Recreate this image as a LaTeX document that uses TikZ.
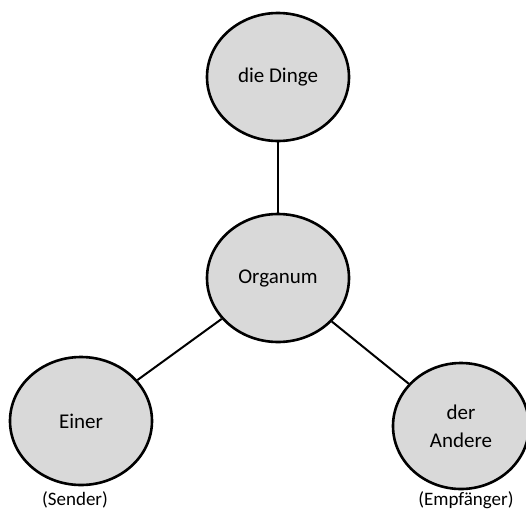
\documentclass[tikz,border=0pt]{standalone}
\usepackage{fontspec}
\setmainfont{Carlito}
\usetikzlibrary{shapes.geometric}
\definecolor{cfill}{HTML}{D9D9D9}
\begin{document}
\begin{tikzpicture}[x=1pt,y=-1pt,
  bub/.style={ellipse,draw=black,line width=2.6pt,fill=cfill,minimum width=142pt,minimum height=128pt,inner sep=0pt,font=\fontsize{21}{28}\selectfont,align=center},
  conn/.style={draw=black,line width=2pt},
  captext/.style={font=\fontsize{19}{21}\selectfont,inner sep=0pt}]
\useasboundingbox (0,0) rectangle (526,511);
\node[bub] (dinge) at (278,77) {die Dinge};
\node[bub] (org) at (278,278) {Organum};
\node[bub] (einer) at (81,421) {Einer};
\node[bub,minimum width=136pt,minimum height=126pt] (andere) at (461,426) {der\\Andere};
\draw[conn] (dinge) -- (org);
\draw[conn] (org) -- (einer);
\draw[conn] (org) -- (andere);
\node[captext] (sender) at (75,500) {(Sender)};
\node[captext] (empf) at (466,500) {(Empfänger)};
\end{tikzpicture}
\end{document}
